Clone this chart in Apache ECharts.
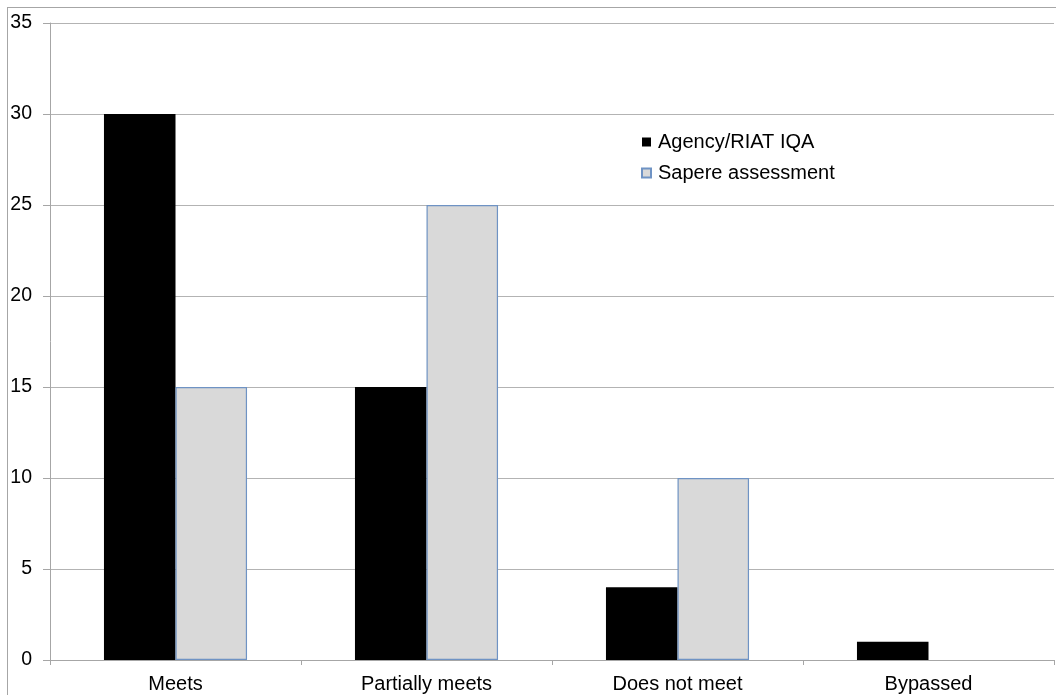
<!DOCTYPE html>
<html>
<head>
<meta charset="utf-8">
<script src="https://cdn.jsdelivr.net/npm/echarts@6/dist/echarts.min.js"></script>
<style>
  html, body { margin: 0; padding: 0; background: #fff; }
  #frame { position: absolute; left: 7px; top: 7px; width: 1060px; height: 700px; border-left: 1px solid #a6a6a6; border-top: 1px solid #a6a6a6; }
  #chart { position: absolute; left: 0; top: 0; width: 1056px; height: 695px; }
</style>
</head>
<body>
<div id="frame"></div>
<div id="chart"></div>
<script>
// Assessment outcome categories
const categories = ['Meets', 'Partially meets', 'Does not meet', 'Bypassed'];
// Counts per outcome
const agencyIQA = [30, 15, 4, 1];
const sapereAssessment = [15, 25, 10, 0];
// Value axis ticks
const yMin = 0, yMax = 35, yStep = 5;

const chart = echarts.init(document.getElementById('chart'), null, { renderer: 'canvas' });
const font = 'Liberation Sans, Arial, sans-serif';

// Zero-height bars get no outline so nothing is drawn for them
const sapereItems = sapereAssessment.map(v => ({
  value: v,
  itemStyle: v === 0 ? { borderWidth: 0, opacity: 0 } : undefined
}));

chart.setOption({
  animation: false,
  backgroundColor: 'transparent',
  grid: { left: 50, right: 2, top: 23, bottom: 35, containLabel: false },
  legend: {
    orient: 'vertical',
    left: 636,
    top: 127,
    itemWidth: 9,
    itemHeight: 9,
    itemGap: 11,
    textStyle: { fontFamily: font, fontSize: 20, color: '#000', padding: [0, 0, 0, 2] },
    data: [
      { name: 'Agency/RIAT IQA', icon: 'rect' },
      { name: 'Sapere assessment', icon: 'rect' }
    ]
  },
  xAxis: {
    type: 'category',
    data: categories,
    axisLine: { lineStyle: { color: '#a6a6a6', width: 1 } },
    axisTick: { show: true, length: 5, lineStyle: { color: '#a6a6a6' } },
    axisLabel: { fontFamily: font, fontSize: 20, color: '#000', margin: 14 }
  },
  yAxis: {
    type: 'value',
    min: yMin,
    max: yMax,
    interval: yStep,
    axisLine: { show: true, lineStyle: { color: '#a6a6a6', width: 1 } },
    axisTick: { show: true, length: 7, lineStyle: { color: '#a6a6a6' } },
    axisLabel: { fontFamily: font, fontSize: 19.5, color: '#000', margin: 18 },
    splitLine: { lineStyle: { color: '#b3b3b3', width: 1 } }
  },
  series: [
    {
      name: 'Agency/RIAT IQA',
      type: 'bar',
      data: agencyIQA,
      barGap: '0%',
      barCategoryGap: '43%',
      itemStyle: { color: '#000000' }
    },
    {
      name: 'Sapere assessment',
      type: 'bar',
      data: sapereItems,
      barGap: '0%',
      barCategoryGap: '43%',
      itemStyle: { color: '#d9d9d9', borderColor: '#6f93c4', borderWidth: 1.2 }
    }
  ]
});
</script>
</body>
</html>
